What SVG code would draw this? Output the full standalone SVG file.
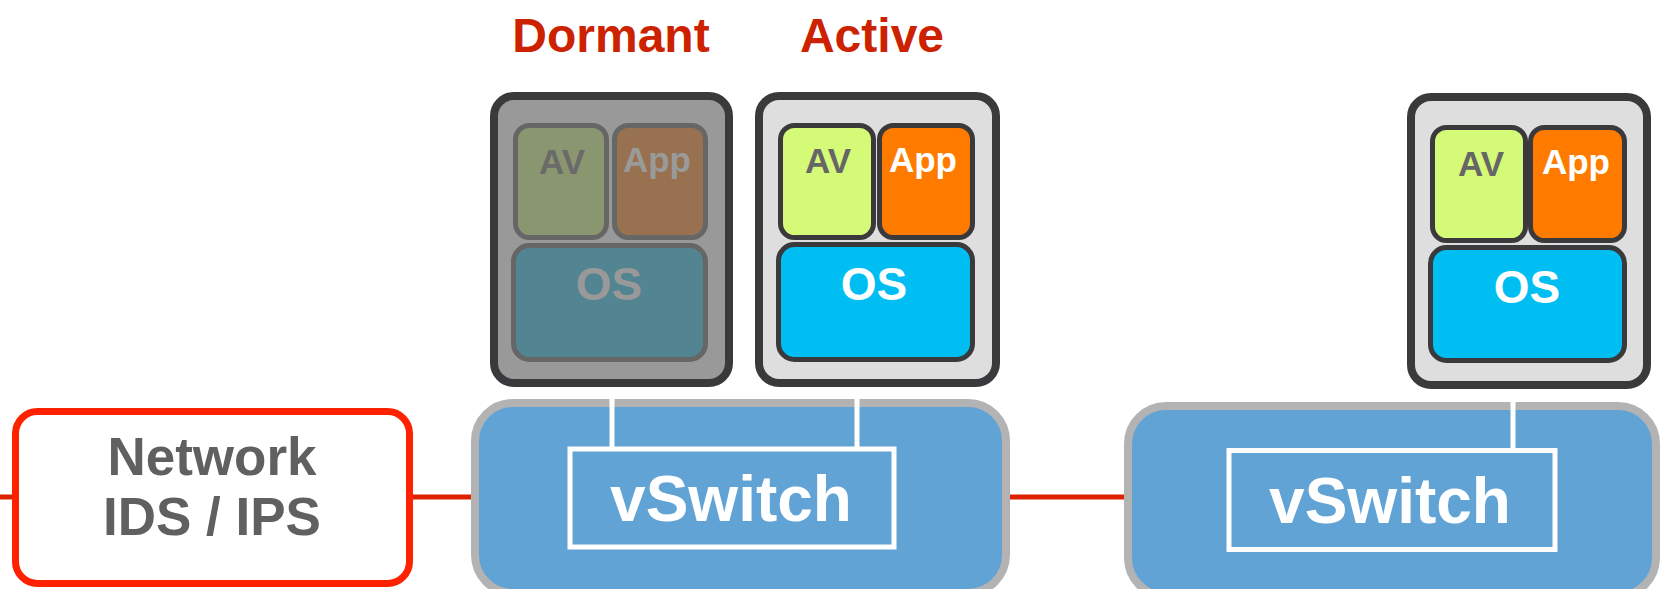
<svg xmlns="http://www.w3.org/2000/svg" width="1662" height="589" viewBox="0 0 1662 589">
<style>
text{font-family:"Liberation Sans",Arial,sans-serif;font-weight:bold;text-anchor:middle}
.title{font-size:48px;fill:#CC2200}
.vm{stroke:#3A3A3C;stroke-width:8}
.inner{stroke-width:5}
.d .inner{stroke:#666666}
.a .inner{stroke:#3A3A3C}
.lbl{font-size:35px}
.os{font-size:46px}
.sw{fill:#62A3D6;stroke:#B3B3B3;stroke-width:8}
.swin{fill:none;stroke:#FFFFFF;stroke-width:5}
.swt{font-size:64px;fill:#FFFFFF}
.red{stroke:#DD2200;stroke-width:5;fill:none}
.wire{stroke:#FFFFFF;stroke-width:5;fill:none}
</style>
<text class="title" x="611" y="52">Dormant</text>
<text class="title" x="872" y="52">Active</text>
<g id="connectors">
<line class="red" x1="0" y1="497" x2="16" y2="497"/>
<line class="red" x1="410" y1="497" x2="475" y2="497"/>
<line class="red" x1="1006" y1="497" x2="1128" y2="497"/>
</g>
<g id="network-ids">
<rect x="15.5" y="411.5" width="394" height="172" rx="22" fill="#FFFFFF" stroke="#FF2200" stroke-width="7"/>
<text x="212" y="475" style="font-size:53px;fill:#606060">Network</text>
<text x="212" y="535" style="font-size:53px;fill:#606060">IDS / IPS</text>
</g>
<g id="vswitch1">
<rect class="sw" x="475" y="403" width="531" height="190" rx="38"/>
<rect class="swin" x="570" y="449" width="324" height="98"/>
<text class="swt" x="731" y="521">vSwitch</text>
</g>
<g id="vswitch2">
<rect class="sw" x="1128" y="406" width="528" height="190" rx="38"/>
<rect class="swin" x="1229" y="450.5" width="326" height="99"/>
<text class="swt" x="1390" y="523">vSwitch</text>
</g>
<g id="vm-links">
<line class="wire" x1="612" y1="388" x2="612" y2="449"/>
<line class="wire" x1="857" y1="380" x2="857" y2="449"/>
<line class="wire" x1="1513" y1="380" x2="1513" y2="450"/>
</g>
<g id="vm-dormant" class="d">
<rect class="vm" x="494" y="96" width="235" height="287" rx="20" fill="#999999"/>
<rect class="inner" x="515.5" y="125.5" width="91" height="112" rx="14" fill="#8A9670"/>
<rect class="inner" x="614.5" y="125.5" width="91" height="112" rx="14" fill="#977150"/>
<rect class="inner" x="513.5" y="245.5" width="192" height="114" rx="16" fill="#538491"/>
<text class="lbl" x="562" y="174" fill="#6A6A6A">AV</text>
<text class="lbl" x="657" y="172" fill="#9A9A9A">App</text>
<text class="os" x="609" y="300" fill="#999999">OS</text>
</g>
<g id="vm-active" class="a">
<rect class="vm" x="759" y="96" width="237" height="287" rx="20" fill="#DEDEDE"/>
<rect class="inner" x="780.5" y="125.5" width="93" height="112" rx="14" fill="#D4FA78"/>
<rect class="inner" x="879.5" y="125.5" width="93" height="112" rx="14" fill="#FF7B00"/>
<rect class="inner" x="778.5" y="244.5" width="194" height="115" rx="16" fill="#00BEF2"/>
<text class="lbl" x="828" y="173" fill="#666666">AV</text>
<text class="lbl" x="923" y="172" fill="#FFFFFF">App</text>
<text class="os" x="874" y="300" fill="#FFFFFF">OS</text>
</g>
<g id="vm-remote" class="a">
<rect class="vm" x="1411" y="97" width="236" height="288" rx="20" fill="#DEDEDE"/>
<rect class="inner" x="1432.5" y="127.5" width="93" height="113" rx="14" fill="#D4FA78"/>
<rect class="inner" x="1530.5" y="127.5" width="94" height="113" rx="14" fill="#FF7B00"/>
<rect class="inner" x="1430.5" y="247.5" width="194" height="113" rx="16" fill="#00BEF2"/>
<text class="lbl" x="1481" y="176" fill="#666666">AV</text>
<text class="lbl" x="1576" y="174" fill="#FFFFFF">App</text>
<text class="os" x="1527" y="303" fill="#FFFFFF">OS</text>
</g>
</svg>
